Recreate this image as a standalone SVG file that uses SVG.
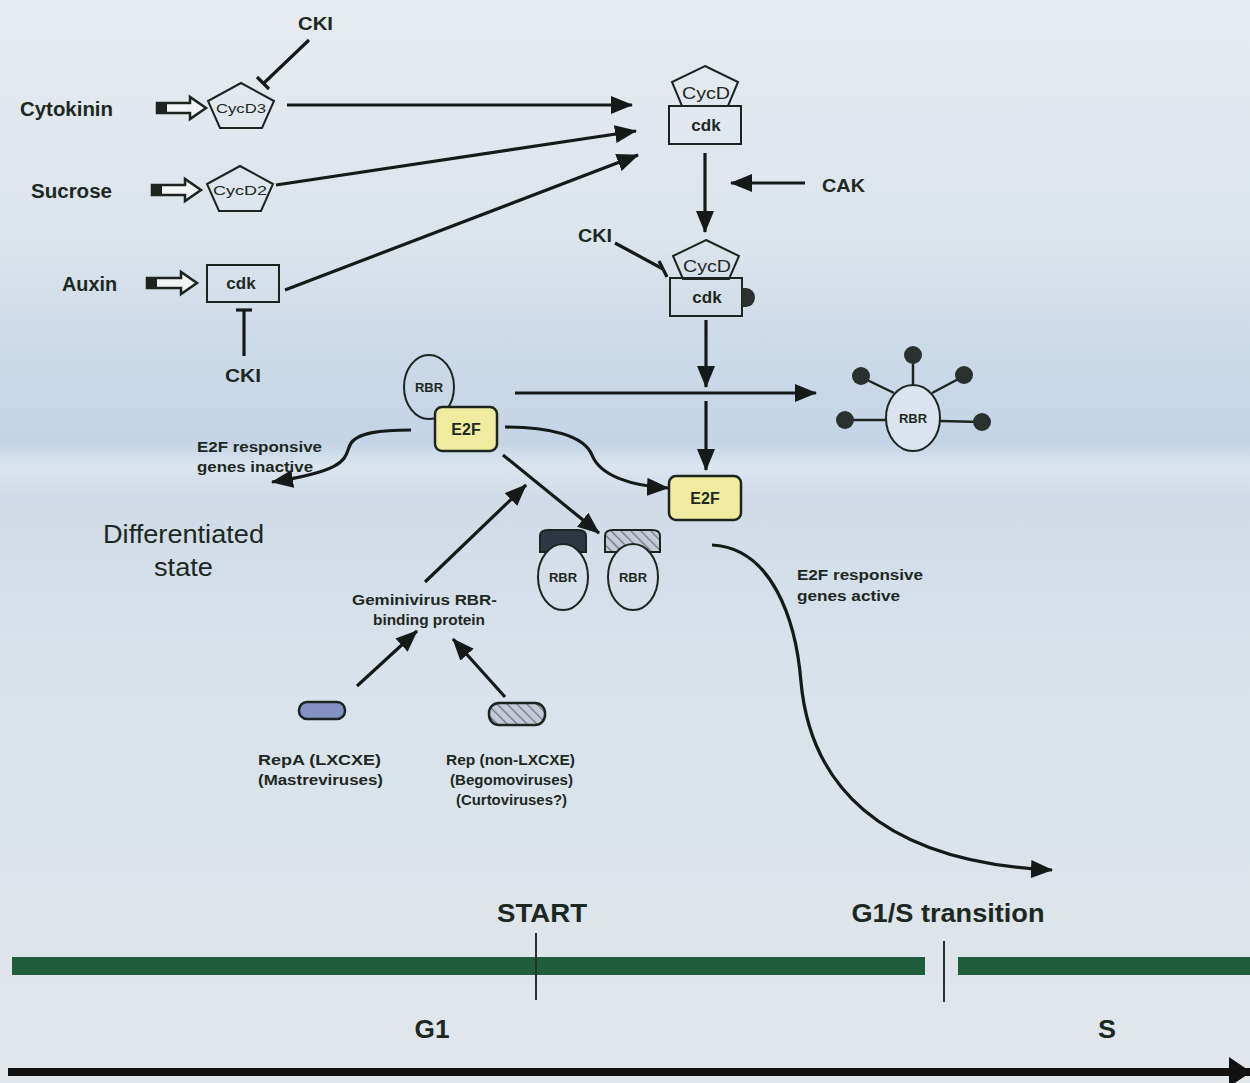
<svg xmlns="http://www.w3.org/2000/svg" width="1250" height="1083" viewBox="0 0 1250 1083">
<defs>
<linearGradient id="bg" x1="0" y1="0" x2="0" y2="1">
<stop offset="0" stop-color="#e6ebf0"/>
<stop offset="0.22" stop-color="#dce4ec"/>
<stop offset="0.33" stop-color="#ccd9e7"/>
<stop offset="0.41" stop-color="#c5d4e5"/>
<stop offset="0.43" stop-color="#dce5ee"/>
<stop offset="0.46" stop-color="#d0dbe7"/>
<stop offset="0.6" stop-color="#d9e2eb"/>
<stop offset="0.85" stop-color="#dde4ea"/>
<stop offset="1" stop-color="#e2e7ec"/>
</linearGradient>
<pattern id="hatch" patternUnits="userSpaceOnUse" width="7" height="7" patternTransform="rotate(-45)">
<rect width="7" height="7" fill="#c4cad6"/>
<line x1="0" y1="0" x2="0" y2="7" stroke="#6d7482" stroke-width="2.5"/>
</pattern>
<marker id="ah" viewBox="0 0 22 18" refX="21" refY="9" markerWidth="22" markerHeight="18" orient="auto" markerUnits="userSpaceOnUse">
<path d="M0,0 L22,9 L0,18 Z" fill="#151a18"/>
</marker>
<marker id="big" viewBox="0 0 22 30" refX="21" refY="15" markerWidth="22" markerHeight="30" orient="auto" markerUnits="userSpaceOnUse">
<path d="M0,0 L22,15 L0,30 Z" fill="#111"/>
</marker>
</defs>
<style>
text{font-family:"Liberation Sans",Arial,sans-serif;fill:#1d2822}
.b{font-weight:bold}
.lbl{font-size:20px;font-weight:bold}
.sm{font-size:14px;font-weight:bold}
.in{font-size:13px;text-anchor:middle}
.cdk{font-size:17px;font-weight:bold;text-anchor:middle}
.shape{fill:none;stroke:#1d2420;stroke-width:2}
.ln{fill:none;stroke:#151a18;stroke-width:3.2}
.arr{fill:none;stroke:#151a18;stroke-width:3.2;marker-end:url(#ah)}
.e2f{fill:#efeca0;stroke:#1d2420;stroke-width:2.5}
.blk{fill:#f2f4f6;stroke:#1d2420;stroke-width:2.5}
.ph{fill:#2a302d}
.tl{font-size:26px;font-weight:bold;text-anchor:middle}
</style>
<rect width="1250" height="1083" fill="url(#bg)"/>

<g id="connectors">
<path class="blk" d="M157,103 L190,103 L190,97 L206,108 L190,119 L190,113 L157,113 Z"/>
<rect x="156" y="103" width="11" height="10" fill="#1d2420"/>
<path class="blk" d="M152,185 L185,185 L185,179 L201,190 L185,201 L185,195 L152,195 Z"/>
<rect x="151" y="185" width="11" height="10" fill="#1d2420"/>
<path class="blk" d="M147,278 L181,278 L181,272 L197,283 L181,294 L181,288 L147,288 Z"/>
<rect x="146" y="278" width="11" height="10" fill="#1d2420"/>
<line class="ln" x1="309" y1="40" x2="264" y2="83"/>
<line class="ln" x1="257" y1="77" x2="269" y2="89"/>
<line class="ln" x1="244" y1="310" x2="244" y2="356"/>
<line class="ln" x1="236" y1="310" x2="252" y2="310"/>
<line class="ln" x1="615" y1="243" x2="663" y2="269"/>
<line class="ln" x1="659" y1="261" x2="667" y2="277"/>
<line class="arr" x1="287" y1="105" x2="632" y2="105"/>
<line class="arr" x1="276" y1="185" x2="636" y2="131"/>
<line class="arr" x1="285" y1="290" x2="638" y2="155"/>
<line class="arr" x1="705" y1="153" x2="705" y2="232"/>
<line class="arr" x1="805" y1="183" x2="731" y2="183"/>
<line class="arr" x1="706" y1="320" x2="706" y2="387"/>
<line class="arr" x1="515" y1="393" x2="816" y2="393"/>
<line class="arr" x1="706" y1="401" x2="706" y2="470"/>
<path class="arr" d="M505,427 C548,427 584,435 592,455 C600,476 632,486 668,488"/>
<line class="arr" x1="503" y1="455" x2="599" y2="533"/>
<line class="arr" x1="425" y1="582" x2="526" y2="485"/>
<path class="arr" d="M411,430 C383,430 356,432 350,445 C344,458 350,470 272,482"/>
<line class="arr" x1="357" y1="686" x2="417" y2="631"/>
<line class="arr" x1="505" y1="697" x2="453" y2="639"/>
<path class="arr" d="M712,545 C772,548 796,620 801,682 C810,780 875,862 1052,870"/>
</g>

<g id="cycd3">
<path class="shape" d="M241,83 L274,101 L262,128 L220,128 L208,101 Z"/>
<text class="in" x="241" y="113" textLength="50" lengthAdjust="spacingAndGlyphs">CycD3</text>
</g>
<g id="cycd2">
<path class="shape" d="M240,166 L273,184 L261,211 L219,211 L207,184 Z"/>
<text class="in" x="240" y="195" textLength="54" lengthAdjust="spacingAndGlyphs">CycD2</text>
</g>
<g id="cdk-auxin">
<rect class="shape" x="207" y="265" width="72" height="37"/>
<text class="cdk" x="241" y="289" font-size="16">cdk</text>
</g>

<g id="cycd-cdk-1">
<path class="shape" d="M705,66 L738,82 L728,106 L682,106 L672,82 Z"/>
<text x="706" y="99" font-size="16" text-anchor="middle" textLength="48" lengthAdjust="spacingAndGlyphs">CycD</text>
<rect class="shape" x="669" y="106" width="72" height="38"/>
<text class="cdk" x="706" y="131">cdk</text>
</g>

<g id="cycd-cdk-2">
<path class="shape" d="M706,240 L739,256 L729,279 L683,279 L673,256 Z"/>
<text x="707" y="272" font-size="16" text-anchor="middle" textLength="48" lengthAdjust="spacingAndGlyphs">CycD</text>
<rect class="shape" x="670" y="278" width="72" height="38"/>
<text class="cdk" x="707" y="303">cdk</text>
<path class="ph" d="M742,288 h4 a9,9.5 0 0 1 0,19 h-4 Z"/>
</g>

<g id="rbr-e2f">
<ellipse class="shape" cx="429" cy="387" rx="25" ry="32"/>
<text class="in b" x="429" y="392">RBR</text>
<rect class="e2f" x="435" y="407" width="62" height="44" rx="7"/>
<text class="b" x="466" y="435" font-size="16" text-anchor="middle">E2F</text>
</g>

<g id="e2f-free">
<rect class="e2f" x="669" y="476" width="72" height="44" rx="7"/>
<text class="b" x="705" y="504" font-size="16" text-anchor="middle">E2F</text>
</g>

<g id="rbr-p">
<g stroke="#1d2420" stroke-width="2.5">
<line x1="886" y1="420" x2="845" y2="420"/>
<line x1="940" y1="421" x2="982" y2="422"/>
<line x1="894" y1="393" x2="861" y2="377"/>
<line x1="913" y1="385" x2="913" y2="355"/>
<line x1="932" y1="393" x2="964" y2="376"/>
</g>
<g class="ph">
<circle cx="845" cy="420" r="9"/>
<circle cx="982" cy="422" r="9"/>
<circle cx="861" cy="376" r="9"/>
<circle cx="913" cy="355" r="9"/>
<circle cx="964" cy="375" r="9"/>
</g>
<ellipse cx="913" cy="418" rx="27" ry="33" fill="#dbe4ee" stroke="#1d2420" stroke-width="2"/>
<text class="in b" x="913" y="423">RBR</text>
</g>

<g id="rbr-repa">
<path d="M540,552 L540,536 Q540,530 548,530 L578,530 Q586,530 586,536 L586,552 Z" fill="#2e3844" stroke="#1d2420" stroke-width="2"/>
<ellipse cx="563" cy="577" rx="25" ry="33" fill="#d6dfe9" stroke="#1d2420" stroke-width="2"/>
<text class="in b" x="563" y="582">RBR</text>
</g>
<g id="rbr-rep">
<path d="M605,552 L605,536 Q605,530 613,530 L652,530 Q660,530 660,536 L660,552 Z" fill="url(#hatch)" stroke="#1d2420" stroke-width="2"/>
<ellipse cx="633" cy="577" rx="25" ry="33" fill="#d6dfe9" stroke="#1d2420" stroke-width="2"/>
<text class="in b" x="633" y="582">RBR</text>
</g>

<g id="repa">
<rect x="299" y="702" width="46" height="17" rx="8" fill="#8391c4" stroke="#1d2420" stroke-width="2.5"/>
</g>
<g id="rep">
<rect x="489" y="703" width="56" height="22" rx="10" fill="url(#hatch)" stroke="#1d2420" stroke-width="2.5"/>
</g>

<g id="labels">
<text class="lbl" x="20" y="116" textLength="93" lengthAdjust="spacingAndGlyphs">Cytokinin</text>
<text class="lbl" x="31" y="198" textLength="81" lengthAdjust="spacingAndGlyphs">Sucrose</text>
<text class="lbl" x="62" y="291" textLength="55" lengthAdjust="spacingAndGlyphs">Auxin</text>
<text class="b" x="298" y="30" font-size="18" textLength="35" lengthAdjust="spacingAndGlyphs">CKI</text>
<text class="b" x="578" y="242" font-size="18" textLength="34" lengthAdjust="spacingAndGlyphs">CKI</text>
<text class="b" x="225" y="382" font-size="18" textLength="36" lengthAdjust="spacingAndGlyphs">CKI</text>
<text class="b" x="822" y="192" font-size="18" textLength="43" lengthAdjust="spacingAndGlyphs">CAK</text>
<text class="sm" x="197" y="452" textLength="125" lengthAdjust="spacingAndGlyphs">E2F responsive</text>
<text class="sm" x="197" y="472" textLength="116" lengthAdjust="spacingAndGlyphs">genes inactive</text>
<text x="103" y="543" font-size="26" textLength="161" lengthAdjust="spacingAndGlyphs">Differentiated</text>
<text x="154" y="576" font-size="26" textLength="59" lengthAdjust="spacingAndGlyphs">state</text>
<text class="sm" x="352" y="605" textLength="145" lengthAdjust="spacingAndGlyphs">Geminivirus RBR-</text>
<text class="sm" x="373" y="625" textLength="112" lengthAdjust="spacingAndGlyphs">binding protein</text>
<text class="sm" x="258" y="765" textLength="123" lengthAdjust="spacingAndGlyphs">RepA (LXCXE)</text>
<text class="sm" x="258" y="785" textLength="125" lengthAdjust="spacingAndGlyphs">(Mastreviruses)</text>
<text class="sm" x="446" y="765" textLength="129" lengthAdjust="spacingAndGlyphs">Rep (non-LXCXE)</text>
<text class="sm" x="450" y="785" textLength="123" lengthAdjust="spacingAndGlyphs">(Begomoviruses)</text>
<text class="sm" x="456" y="805" textLength="111" lengthAdjust="spacingAndGlyphs">(Curtoviruses?)</text>
<text class="sm" x="797" y="580" textLength="126" lengthAdjust="spacingAndGlyphs">E2F responsive</text>
<text class="sm" x="797" y="601" textLength="103" lengthAdjust="spacingAndGlyphs">genes active</text>
</g>

<g id="timeline">
<rect x="12" y="957" width="913" height="18" fill="#1f5d3d"/>
<rect x="958" y="957" width="292" height="18" fill="#1f5d3d"/>
<line x1="536" y1="933" x2="536" y2="1000" stroke="#2a302d" stroke-width="2"/>
<line x1="944" y1="941" x2="944" y2="1002" stroke="#2a302d" stroke-width="2"/>
<text class="tl" x="542" y="922" textLength="90" lengthAdjust="spacingAndGlyphs">START</text>
<text class="tl" x="948" y="922" textLength="193" lengthAdjust="spacingAndGlyphs">G1/S transition</text>
<text class="tl" x="432" y="1038" textLength="35" lengthAdjust="spacingAndGlyphs">G1</text>
<text class="tl" x="1107" y="1038" textLength="18" lengthAdjust="spacingAndGlyphs">S</text>
<line x1="8" y1="1072" x2="1250" y2="1072" stroke="#111" stroke-width="8" marker-end="url(#big)"/>
</g>
</svg>
